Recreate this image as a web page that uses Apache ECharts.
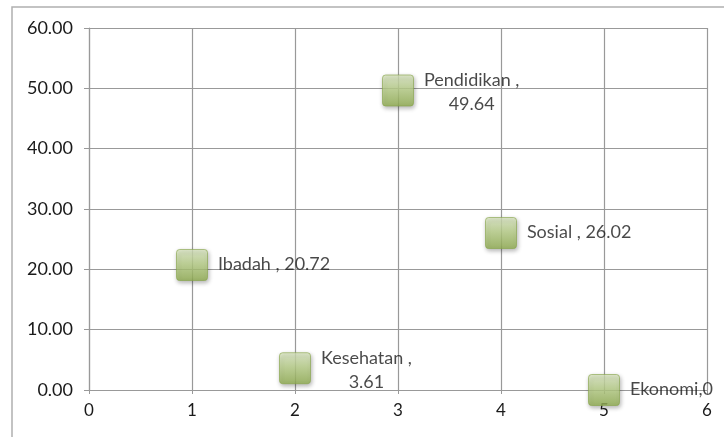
<!DOCTYPE html>
<html>
<head>
<meta charset="utf-8">
<script src="https://cdn.jsdelivr.net/npm/echarts@6/dist/echarts.min.js"></script>
<style>html,body{margin:0;padding:0;background:#fff;}#c{width:724px;height:437px;}</style>
</head>
<body>
<div id="c"></div>
<script>
var categories = ['Ibadah', 'Kesehatan', 'Pendidikan', 'Sosial', 'Ekonomi'];
var xValues = [1, 2, 3, 4, 5];
var yValues = [20.72, 3.61, 49.64, 26.02, 0];
var labelTexts = ['Ibadah , 20.72', 'Kesehatan ,\n3.61', 'Pendidikan ,\n49.64', 'Sosial , 26.02', 'Ekonomi,0'];

var chart = echarts.init(document.getElementById('c'));
var FONT = 'Lato';
var data = categories.map(function (c, i) {
  var multi = labelTexts[i].indexOf('\n') >= 0;
  return {
    name: c,
    value: [xValues[i], yValues[i]],
    label: {
      formatter: labelTexts[i].split('\n').map(function (s) { return '{a|' + s + '}'; }).join('\n'),
      offset: multi ? [0, 2] : [0, -1]
    }
  };
});
chart.setOption({
  animation: false,
  backgroundColor: '#fff',
  graphic: [{
    type: 'rect',
    shape: { x: 12, y: 7, width: 900, height: 600 },
    style: { fill: 'none', stroke: '#b0b0b0', lineWidth: 1.5 },
    z: -1
  }],
  grid: { left: 89, right: 17, top: 28, bottom: 47 },
  xAxis: {
    type: 'value', min: 0, max: 6, interval: 1,
    axisLine: { show: true, onZero: false, lineStyle: { color: '#999', width: 1.2 } },
    axisTick: { show: true, length: 4, lineStyle: { color: '#999' } },
    splitLine: { show: true, lineStyle: { color: '#999', width: 1.2 } },
    axisLabel: { color: '#1a1a1a', fontFamily: FONT, fontSize: 17, margin: 12 }
  },
  yAxis: {
    type: 'value', min: 0, max: 60, interval: 10,
    axisLine: { show: true, onZero: false, lineStyle: { color: '#999', width: 1.2 } },
    axisTick: { show: true, length: 5, lineStyle: { color: '#999' } },
    splitLine: { show: true, lineStyle: { color: '#999', width: 1.2 } },
    axisLabel: { color: '#1a1a1a', fontFamily: FONT, fontSize: 18, margin: 16,
      formatter: function (v) { return v.toFixed(2); } }
  },
  series: [{
    type: 'scatter',
    symbol: 'path://M3,0H27Q30,0 30,3V27Q30,30 27,30H3Q0,30 0,27V3Q0,0 3,0Z',
    symbolSize: 31,
    itemStyle: {
      color: new echarts.graphic.LinearGradient(0, 0, 0, 1, [
        { offset: 0, color: '#dde9c5' },
        { offset: 0.45, color: '#bcd38c' },
        { offset: 1, color: '#93b052' }
      ]),
      borderColor: '#88a64a', borderWidth: 0.8,
      shadowBlur: 4, shadowColor: 'rgba(0,0,0,0.35)', shadowOffsetY: 2, shadowOffsetX: 1
    },
    label: {
      show: true, position: 'right', distance: 10,
      color: '#1a1a1a', fontFamily: FONT, fontSize: 18, lineHeight: 24,
      rich: { a: { align: 'center', color: '#1a1a1a', fontFamily: FONT, fontSize: 18, lineHeight: 24 } }
    },
    data: data
  }]
});
</script>
</body>
</html>
